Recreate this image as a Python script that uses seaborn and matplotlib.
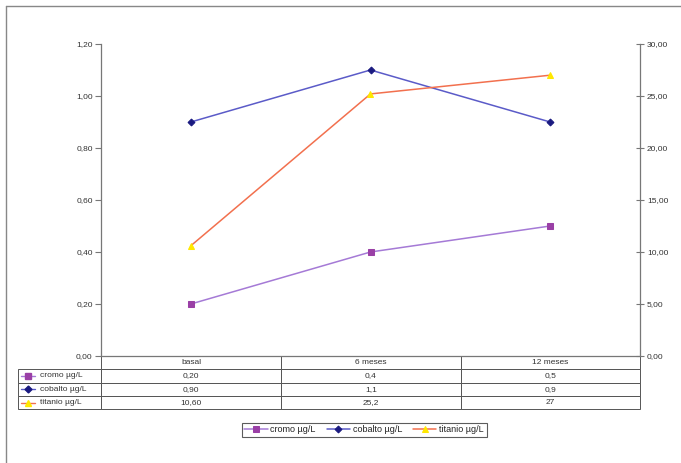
import matplotlib
matplotlib.use("Agg")
import matplotlib.pyplot as plt
import seaborn as sns
from matplotlib.lines import Line2D
from matplotlib.ticker import FuncFormatter, MultipleLocator

# datos
momentos = ["basal", "6 meses", "12 meses"]
cromo = [0.20, 0.4, 0.5]
cobalto = [0.90, 1.1, 0.9]
titanio = [10.60, 25.2, 27]
series = ["cromo µg/L", "cobalto µg/L", "titanio µg/L"]
tabla_txt = [["0,20", "0,4", "0,5"],
             ["0,90", "1,1", "0,9"],
             ["10,60", "25,2", "27"]]

sns.set_style("white")
plt.rcParams["font.family"] = ["Liberation Sans", "DejaVu Sans"]
plt.rcParams["text.color"] = "#222222"

W, H = 681, 463
fig = plt.figure(figsize=(W / 100, H / 100), dpi=100)
ax = fig.add_axes([101 / W, 1 - 356 / H, 539 / W, 312 / H])
ax2 = ax.twinx()

estilos = [
    dict(color="#A57AD6", marker="s", markersize=4, markerfacecolor="#9A3FA6", markeredgecolor="#9A3FA6"),
    dict(color="#5B5BC8", marker="D", markersize=3.5, markerfacecolor="#1A1A80", markeredgecolor="#1A1A80"),
    dict(color="#F2704E", marker="^", markersize=4.5, markerfacecolor="#FFE800", markeredgecolor="#FFE800"),
]

sns.lineplot(x=momentos, y=cromo, ax=ax, sort=False, linewidth=1.1, **estilos[0])
sns.lineplot(x=momentos, y=cobalto, ax=ax, sort=False, linewidth=1.1, **estilos[1])
sns.lineplot(x=momentos, y=titanio, ax=ax2, sort=False, linewidth=1.1, **estilos[2])
handles = [ax.lines[0], ax.lines[1], ax2.lines[0]]

coma = FuncFormatter(lambda v, p: f"{v:.2f}".replace(".", ","))
ax.set_xlim(-0.5, 2.5)
ax.set_ylim(0, 1.2)
ax2.set_ylim(0, 30)
ax.yaxis.set_major_locator(MultipleLocator(0.2))
ax2.yaxis.set_major_locator(MultipleLocator(5))
ax.yaxis.set_major_formatter(coma)
ax2.yaxis.set_major_formatter(coma)
ax.set_xlabel("")
ax.set_ylabel("")
ax2.set_ylabel("")
ax.tick_params(axis="x", length=0, labelbottom=False)
ax.tick_params(axis="y", direction="out", length=4, width=0.8, color="#777777",
               labelsize=6, pad=2, labelcolor="#333333")
ax2.tick_params(axis="y", direction="inout", length=6, width=0.8, color="#777777",
                labelsize=6, pad=2, labelcolor="#333333")
for a in (ax, ax2):
    a.spines["top"].set_visible(False)
    for s in ("left", "right", "bottom"):
        a.spines[s].set_color("#777777")
        a.spines[s].set_linewidth(0.9)
ax2.spines["left"].set_visible(False)
ax2.spines["bottom"].set_visible(False)
ax.spines["right"].set_visible(False)

# tabla de datos bajo el grafico
filas = [[series[i]] + tabla_txt[i] for i in range(3)]
x0 = (18 - 101) / 539
tabla = ax.table(cellText=filas, colLabels=[""] + momentos,
                 colWidths=[83 / 622, 180 / 622, 180 / 622, 179 / 622],
                 cellLoc="center",
                 bbox=[x0, -53 / 312, 622 / 539, 53 / 312])
tabla.auto_set_font_size(False)
tabla.set_fontsize(6)
for (r, c), cell in tabla.get_celld().items():
    cell.set_edgecolor("#555555")
    cell.set_linewidth(0.7)
    cell.get_text().set_color("#333333")
    if c == 0:
        cell.PAD = 0.26
        cell.get_text().set_ha("left")
        cell._loc = "left"
        if r == 0:
            cell.visible_edges = ""

# iconos de la leyenda en la tabla
for i, est in enumerate(estilos):
    yc = 1 - (376 + 13.25 * i) / H
    ico = Line2D([21 / W, 28 / W, 35 / W], [yc, yc, yc], markevery=[1],
                 linewidth=1.0, transform=fig.transFigure, **est)
    fig.add_artist(ico)

leg = fig.legend(handles, series, loc="center", bbox_to_anchor=(364 / W, 1 - 430 / H),
                 ncol=3, fontsize=6.5, frameon=True, fancybox=False, edgecolor="#333333",
                 handlelength=2.6, columnspacing=1.2, handletextpad=0.3, borderpad=0.3)
leg.get_frame().set_linewidth(0.8)

# marco exterior
fig.add_artist(Line2D([6 / W, 6 / W], [0, 1 - 6 / H], color="#888888", linewidth=1.0,
                      transform=fig.transFigure))
fig.add_artist(Line2D([6 / W, 1], [1 - 6 / H, 1 - 6 / H], color="#888888", linewidth=1.0,
                      transform=fig.transFigure))

fig.savefig("out.png", dpi=100)
